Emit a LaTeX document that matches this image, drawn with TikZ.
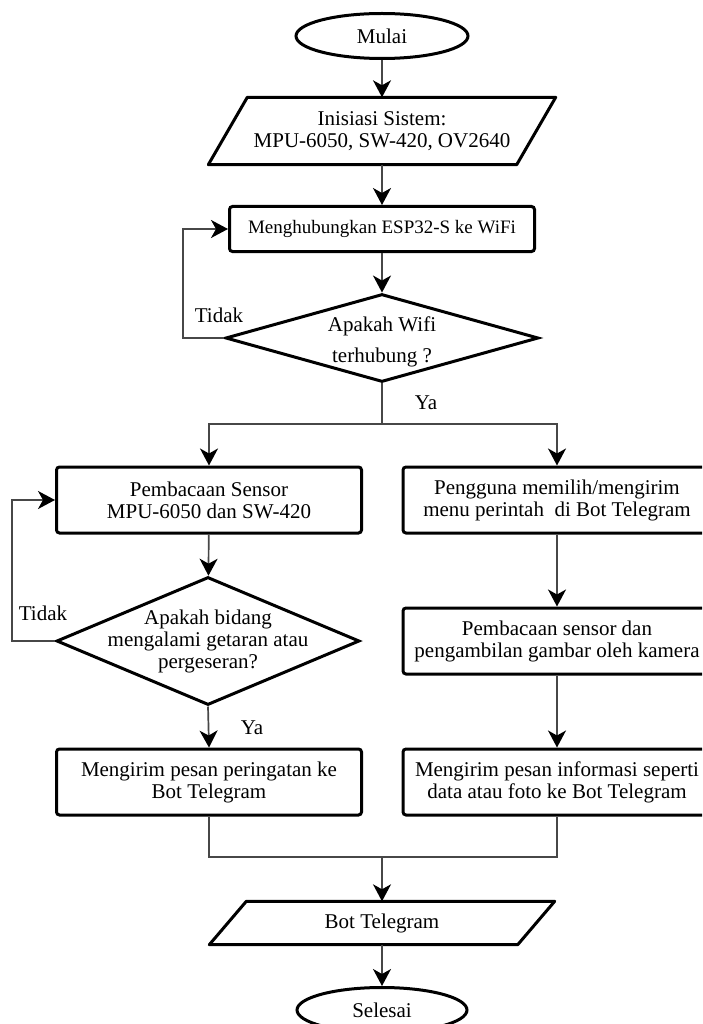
\documentclass[tikz,border=0pt]{standalone}
\usepackage{fontspec}
\setmainfont{Liberation Serif}
\usetikzlibrary{shapes.geometric,arrows.meta}

\tikzstyle{mybox} = [draw=black, line width=3pt, rectangle, rounded corners=3pt,
    align=center, minimum width=305pt, minimum height=66pt, inner sep=1pt,
    font=\fontsize{21}{22}\selectfont]
\tikzstyle{myterm} = [draw=black, line width=3pt, ellipse, minimum width=172pt,
    minimum height=45pt, inner sep=0pt, font=\fontsize{21}{22}\selectfont]
\tikzstyle{myio} = [rectangle, align=center, minimum width=308pt, minimum height=67pt,
    inner sep=0pt, font=\fontsize{21}{22}\selectfont]
\tikzstyle{mydecision} = [draw=black, line width=3pt, diamond, align=center,
    inner sep=0pt, font=\fontsize{21}{22}\selectfont]
\tikzstyle{mylabel} = [font=\fontsize{21}{22}\selectfont, inner sep=0pt]
\tikzstyle{myline} = [draw=black!72, line width=1.7pt]
\tikzstyle{myarrow} = [myline, -{Stealth[length=17pt,width=18pt,inset=5pt,color=black]}]

% slanted outline for the input/output nodes
\newcommand{\ioshape}[2]{%
  \draw [line width=3pt, line join=round]
    ([xshift=#2]#1.north west) -- ([xshift=#2]#1.north east)
    -- ([xshift=-#2]#1.south east) -- ([xshift=-#2]#1.south west) -- cycle;}

\begin{document}
\begin{tikzpicture}[x=1pt, y=-1pt]
\useasboundingbox (0,0) rectangle (702,1024);
\clip (0,0) rectangle (702,1024);
\fill[white] (0,0) rectangle (702,1024);

% main column
\node [myterm] (mulai) at (382,36) {Mulai};
\node [myio] (init) at (382,131) {Inisiasi Sistem:\\MPU-6050, SW-420, OV2640};
\ioshape{init}{19.5pt}
\node [mybox, minimum height=45pt, font=\fontsize{19}{21}\selectfont] (wifi) at (382,229)
    {Menghubungkan ESP32-S ke WiFi};
\node [mydecision, shape aspect=3.56, minimum width=310pt, minimum height=87pt,
    font=\fontsize{21}{31}\selectfont] (cekwifi) at (382,338)
    {\rule{0pt}{22pt}Apakah Wifi\\terhubung ?};
\coordinate (cabang) at (382,424);

% left column
\node [mybox] (baca) at (209,500) {Pembacaan Sensor\\MPU-6050 dan SW-420};
\node [mydecision, shape aspect=2.37, inner xsep=-30pt, minimum width=303pt,
    minimum height=128pt] (getar) at (208,641)
    {Apakah bidang\\mengalami getaran atau\\pergeseran?};
\node [mybox] (peringatan) at (209,782) {Mengirim pesan peringatan ke\\Bot Telegram};

% right column
\node [mybox, minimum width=308pt] (pengguna) at (557,500)
    {Pengguna memilih/mengirim\\menu perintah~ di Bot Telegram};
\node [mybox, minimum width=308pt] (kamera) at (557,641)
    {Pembacaan sensor dan\\pengambilan gambar oleh kamera};
\node [mybox, minimum width=308pt] (informasi) at (557,782)
    {Mengirim pesan informasi seperti\\data atau foto ke Bot Telegram};

% end
\coordinate (gabung) at (382,857);
\node [myio, minimum height=43pt] (bot) at (382,923) {Bot Telegram};
\ioshape{bot}{18.5pt}
\node [myterm, minimum width=170pt] (selesai) at (382,1010) {Selesai};

% labels
\node [mylabel] (tidak1) at (219,315) {Tidak};
\node [mylabel] (ya1) at (426,403) {Ya};
\node [mylabel] (tidak2) at (43,613) {Tidak};
\node [mylabel] (ya2) at (252,728) {Ya};

% connectors
\draw [myarrow] (mulai) -- (init);
\draw [myarrow] (init) -- (wifi);
\draw [myarrow] (wifi) -- (cekwifi);
\draw [myarrow] (cekwifi.west) -- ++(-41,0) |- (wifi.west);
\draw [myline] (cekwifi.south) -- (cabang);
\draw [myarrow] (cabang) -| (baca.north);
\draw [myarrow] (cabang) -| (pengguna.north);
\draw [myarrow] (baca) -- (getar);
\draw [myarrow] (getar.west) -- ++(-43,0) |- (baca.west);
\draw [myarrow] (getar.south) -- (peringatan.north);
\draw [myarrow] (pengguna) -- (kamera);
\draw [myarrow] (kamera) -- (informasi);
\draw [myline] (peringatan.south) |- (gabung) -| (informasi.south);
\draw [myarrow] (gabung) -- (bot.north);
\draw [myarrow] (bot.south) -- (selesai.north);
\end{tikzpicture}
\end{document}
